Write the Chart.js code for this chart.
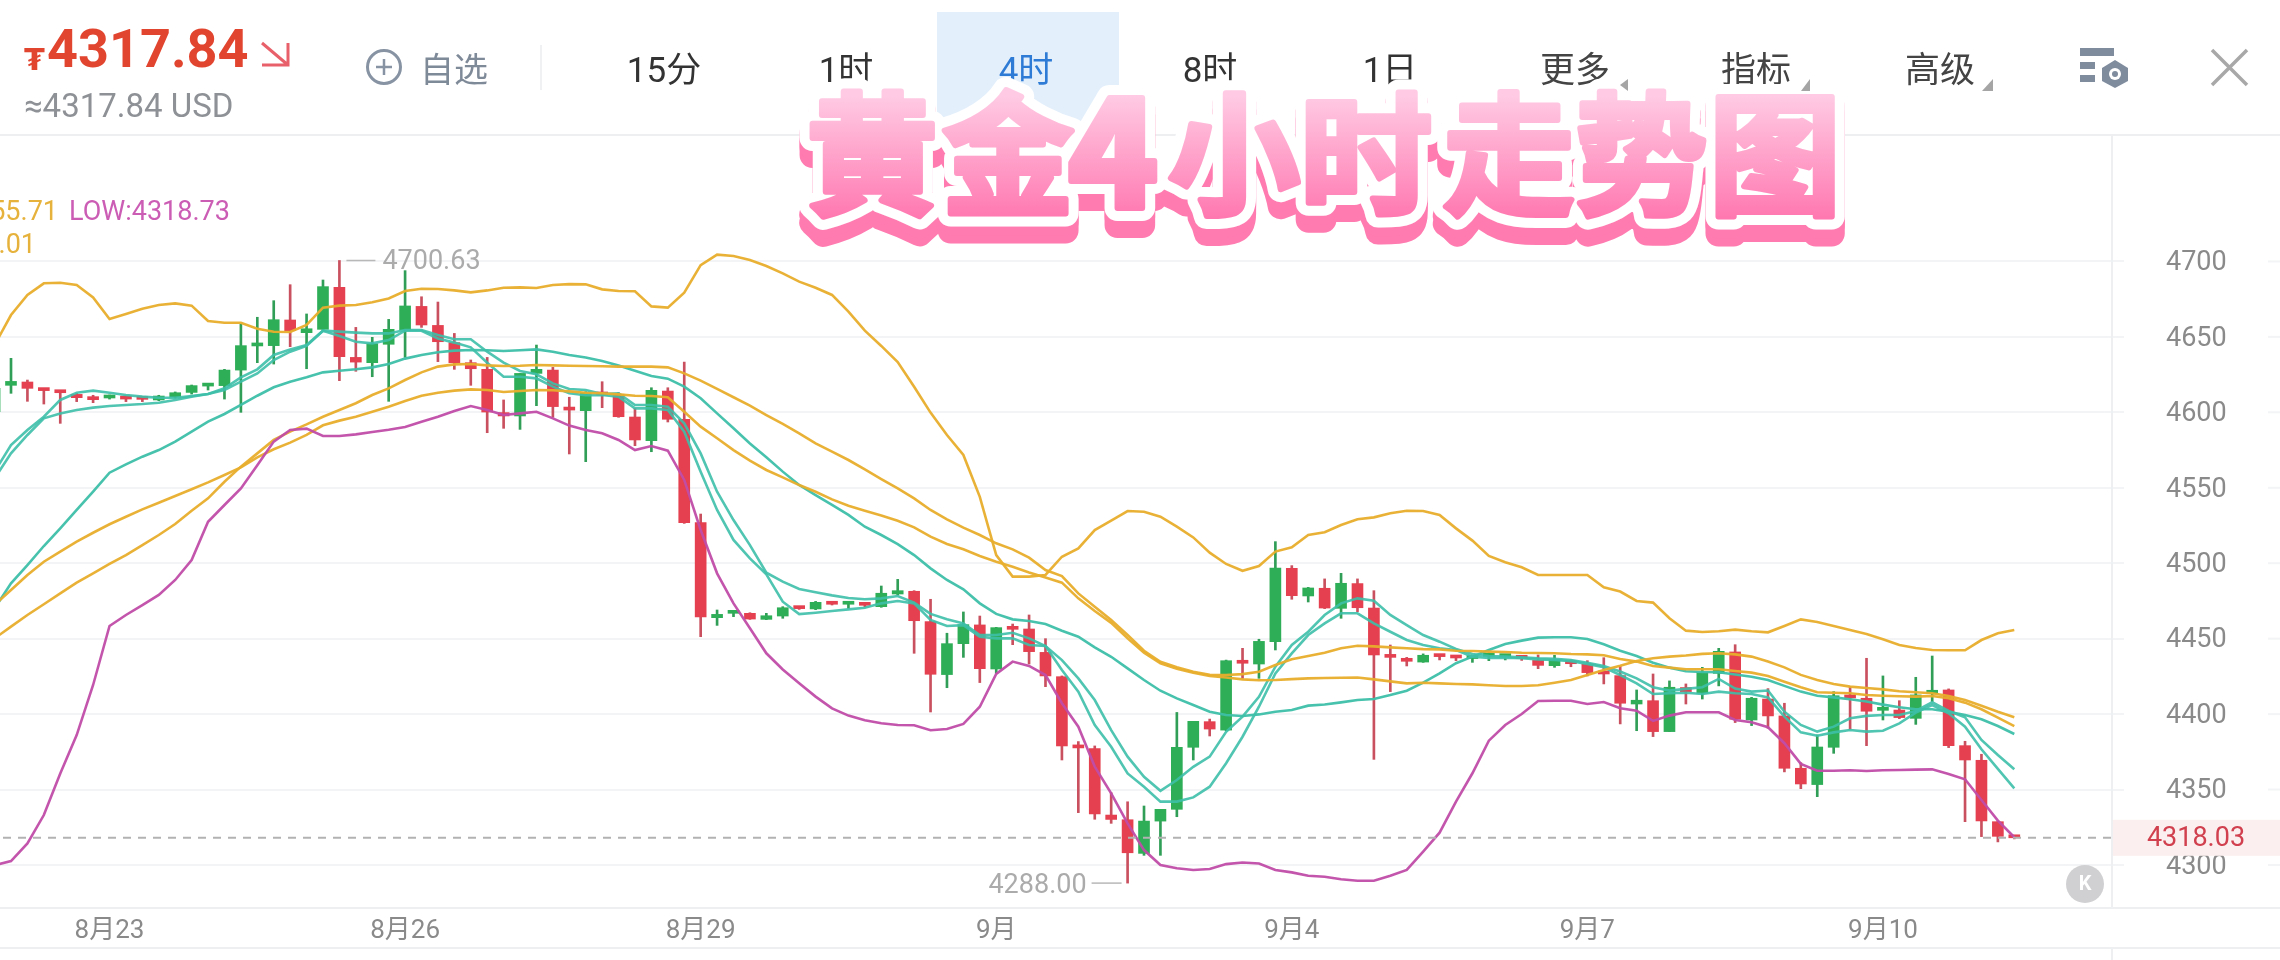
<!DOCTYPE html>
<html lang="zh">
<head>
<meta charset="utf-8">
<title>黄金4小时走势图</title>
<script src="https://cdn.jsdelivr.net/npm/chart.js@4"></script>
<style>
html,body{margin:0;padding:0;background:#fff;width:2280px;height:960px;overflow:hidden;font-family:Roboto,"Noto Sans CJK SC",sans-serif}
#stage{position:relative;width:2280px;height:960px;overflow:hidden}
canvas{position:absolute;left:0;top:0}
.abs{position:absolute;white-space:nowrap;line-height:1}
.tab{position:absolute;top:51px;width:160px;margin-left:-80px;text-align:center;font-size:35px;color:#333;line-height:40px}
svg{position:absolute;left:0;top:0;overflow:visible}
</style>
</head>
<body>
<div id="stage">
  <div class="abs" style="left:937px;top:12px;width:182px;height:111px;background:#E3EFFB"></div>
  <canvas id="c" width="2280" height="960"></canvas>

  <div class="abs" style="left:24px;top:42px;font:bold 30px 'DejaVu Sans';color:#E2452F">₮</div>
  <div class="abs" style="left:47px;top:20px;font:bold 54px Roboto;color:#E2452F;line-height:58px">4317.84</div>
  <div class="abs" style="left:24px;top:86px;font:33px Roboto,'DejaVu Sans';color:#8E9196">≈4317.84 USD</div>

  <div class="abs" style="left:420px;top:50px;font-size:34px;line-height:40px;color:#7F8A99">自选</div>
  <div class="tab" style="left:664px">15分</div>
  <div class="tab" style="left:846px">1时</div>
  <div class="tab" style="left:1026px;color:#2E7BD6">4时</div>
  <div class="tab" style="left:1210px">8时</div>
  <div class="tab" style="left:1390px">1日</div>
  <div class="tab" style="left:1575px;color:#444">更多</div>
  <div class="tab" style="left:1756px;color:#444">指标</div>
  <div class="tab" style="left:1940px;color:#444">高级</div>

  <div class="abs" style="right:2222px;top:198px;font-size:27px;color:#E6B23C">4455.71</div>
  <div class="abs" style="left:69px;top:198px;font-size:27px;color:#CC5DB5">LOW:4318.73</div>
  <div class="abs" style="right:2244px;top:231px;font-size:27px;color:#E6B23C">4392.01</div>

  <svg width="2280" height="960">
    <!-- title -->
    <defs>
      <linearGradient id="pk" gradientUnits="userSpaceOnUse" x1="0" y1="95" x2="0" y2="218">
        <stop offset="0" stop-color="#FFCBE4"/><stop offset="1" stop-color="#FF78B0"/>
      </linearGradient>
      <text id="ttl" y="204" font-family="Noto Sans CJK SC" font-weight="700" font-size="132" stroke-linejoin="round" stroke-linecap="round"><tspan x="806 942">黄金</tspan><tspan x="1068" y="208" font-size="148" font-weight="900">4</tspan><tspan x="1168 1300 1443 1575 1709" y="204">小时走势图</tspan></text>
    </defs>
    <use href="#ttl" y="17" fill="#FF7BB0" stroke="#FF7BB0" stroke-width="26"/>
    <use href="#ttl" y="9" fill="#FF7BB0" stroke="#FF7BB0" stroke-width="26"/>
    <use href="#ttl" fill="#fff" stroke="#fff" stroke-width="26"/>
    <use href="#ttl" fill="url(#pk)" stroke="url(#pk)" stroke-width="6"/>
    <!-- header icons -->
    <path d="M262 43 L288 65 M288 43 V65 H262" fill="none" stroke="#E8616A" stroke-width="3"/>
    <circle cx="384" cy="67" r="16.5" fill="none" stroke="#8793A3" stroke-width="3"/>
    <path d="M376 67H392M384 59V75" stroke="#8793A3" stroke-width="2.5"/>
    <rect x="540" y="45" width="2" height="45" fill="#F0F1F3"/>
    <path d="M1628 79V91L1620 85Z" fill="#A5A5A5"/>
    <path d="M1810 79V91H1801Z" fill="#A5A5A5"/>
    <path d="M1993 79V91H1982Z" fill="#A5A5A5"/>
    <rect x="2080" y="48" width="34" height="8" fill="#7F8C9E"/>
    <rect x="2080" y="62" width="15" height="7" fill="#7F8C9E"/>
    <rect x="2080" y="75" width="15" height="7" fill="#7F8C9E"/>
    <path d="M2115 60L2128 68V81L2115 88L2102 81V68Z" fill="#7F8C9E"/>
    <circle cx="2115" cy="74" r="6" fill="#fff"/>
    <circle cx="2115" cy="74" r="3" fill="#7F8C9E"/>
    <path d="M2212 50L2247 85M2247 50L2212 85" stroke="#A8A8A8" stroke-width="3.5" fill="none"/>
  </svg>
</div>
<script>
// Candle data, oldest first (first candle sits just off the left edge)
const opens = [4600.4,4617.9,4620.1,4615.5,4613.7,4611.9,4609.1,4609.5,4609.5,4609.1,4608.2,4610.0,4613.2,4617.4,4617.7,4628.0,4644.0,4644.2,4661.2,4652.8,4655.0,4682.8,4636.4,4632.9,4645.1,4654.6,4670.2,4657.6,4646.2,4632.9,4628.5,4599.8,4597.6,4625.8,4628.0,4603.1,4601.1,4612.6,4611.7,4596.9,4581.2,4614.1,4595.4,4526.9,4463.9,4466.8,4466.8,4462.8,4465.0,4470.3,4469.7,4473.9,4472.8,4473.0,4471.2,4479.6,4481.4,4461.3,4426.2,4446.7,4459.1,4429.9,4457.5,4456.4,4440.9,4424.8,4378.9,4377.1,4333.1,4330.0,4307.7,4329.1,4336.9,4378.0,4395.0,4389.4,4435.0,4433.2,4448.0,4496.6,4478.3,4483.4,4470.1,4486.5,4470.3,4439.0,4436.8,4434.5,4438.5,4437.6,4436.8,4438.3,4438.1,4437.2,4435.6,4432.1,4435.0,4433.2,4427.3,4425.5,4406.7,4408.9,4388.4,4417.6,4413.8,4427.0,4441.2,4396.1,4410.0,4398.8,4364.1,4353.3,4378.0,4411.8,4410.5,4402.5,4402.7,4397.2,4413.8,4416.0,4379.1,4369.4,4328.7,4318.6];
const closes = [4615.9,4620.5,4615.9,4614.4,4613.0,4609.7,4608.4,4610.2,4608.8,4608.6,4610.8,4613.0,4617.7,4618.1,4628.0,4644.2,4644.6,4661.4,4654.1,4655.4,4683.3,4636.9,4633.3,4645.5,4655.0,4670.5,4657.9,4646.8,4632.9,4628.9,4600.2,4597.6,4625.8,4628.5,4603.8,4601.5,4613.0,4611.5,4597.1,4581.7,4614.6,4595.4,4526.9,4464.4,4466.1,4467.2,4463.0,4465.2,4470.5,4469.9,4474.1,4472.8,4473.4,4472.1,4480.1,4481.8,4461.9,4426.4,4446.7,4459.3,4430.1,4457.3,4456.2,4441.4,4425.3,4378.9,4377.6,4333.8,4330.2,4308.1,4329.1,4336.9,4378.0,4395.2,4390.1,4435.4,4433.7,4448.2,4496.8,4478.5,4483.6,4470.3,4486.7,4470.5,4439.2,4437.6,4435.0,4439.0,4438.1,4437.2,4437.4,4439.0,4438.5,4437.0,4432.3,4436.1,4433.4,4427.5,4426.6,4407.2,4409.2,4388.4,4417.8,4414.9,4427.5,4441.6,4396.6,4410.5,4398.8,4364.1,4353.7,4378.2,4412.2,4410.7,4401.9,4403.6,4397.7,4412.7,4415.8,4379.1,4369.6,4329.2,4319.0,4318.03];
const highs = [4615.9,4635.8,4621.4,4615.9,4613.9,4612.6,4611.3,4611.5,4610.8,4610.0,4611.3,4613.5,4618.1,4619.2,4628.5,4658.5,4663.0,4674.0,4684.6,4665.2,4687.7,4700.63,4656.3,4649.7,4661.6,4693.9,4676.6,4673.1,4652.3,4634.7,4636.4,4608.2,4625.8,4644.6,4629.8,4610.0,4613.7,4620.3,4613.0,4602.6,4616.3,4616.3,4633.3,4532.6,4469.0,4468.3,4467.2,4466.8,4471.2,4471.2,4474.7,4474.7,4473.9,4474.1,4484.9,4489.3,4481.8,4476.1,4453.6,4467.7,4465.0,4457.5,4459.7,4465.7,4450.0,4425.3,4381.8,4378.9,4347.9,4341.9,4339.1,4336.9,4401.1,4395.2,4396.7,4435.8,4443.6,4449.6,4514.3,4498.4,4484.0,4489.6,4493.3,4489.6,4481.8,4445.8,4437.6,4439.9,4438.7,4438.5,4438.1,4440.7,4439.4,4438.1,4439.2,4439.0,4435.9,4435.4,4437.4,4431.9,4416.0,4426.6,4422.0,4420.0,4431.0,4443.6,4446.0,4411.1,4416.9,4407.2,4367.8,4386.2,4414.9,4418.2,4437.0,4425.3,4408.9,4424.4,4438.5,4416.7,4382.0,4373.4,4329.2,4318.8];
const lows = [4600.4,4612.6,4607.3,4605.5,4592.7,4607.1,4606.4,4608.8,4607.1,4607.1,4607.7,4609.5,4612.1,4614.8,4608.8,4600.0,4632.9,4632.0,4643.5,4628.9,4654.6,4621.0,4627.2,4623.6,4607.3,4636.4,4656.3,4633.6,4628.5,4617.9,4586.5,4589.4,4588.7,4604.4,4596.7,4572.4,4567.3,4603.1,4596.7,4577.9,4573.9,4593.6,4526.4,4451.3,4458.8,4464.6,4462.8,4462.6,4463.5,4469.4,4469.2,4472.3,4470.1,4471.2,4470.8,4479.0,4440.3,4401.4,4417.5,4437.6,4420.9,4427.0,4446.0,4433.2,4418.2,4369.6,4334.7,4330.3,4327.6,4288.0,4306.4,4306.4,4332.0,4369.6,4385.5,4389.0,4423.7,4423.7,4442.5,4476.1,4474.3,4469.9,4463.5,4467.9,4370.0,4414.9,4431.9,4434.3,4435.9,4435.4,4434.3,4435.4,4435.9,4435.6,4430.1,4431.0,4431.4,4425.3,4420.0,4393.5,4389.0,4385.1,4388.4,4406.7,4410.0,4418.7,4394.4,4392.4,4390.6,4361.7,4350.6,4345.3,4374.0,4389.9,4379.1,4396.1,4397.0,4393.2,4408.3,4377.8,4328.7,4318.8,4315.3,4317.3];

// Teal moving averages
const tealUpper = [4560.7,4578.3,4588.3,4597.1,4608.2,4613,4614.4,4613,4611.5,4610.4,4609.7,4609.7,4610.8,4612.1,4615.9,4623.2,4628.5,4638,4641.7,4644.6,4654.1,4653.5,4652.8,4652.3,4652.3,4654.6,4654.6,4651.2,4648.4,4648.4,4640.2,4632.9,4627.4,4625.2,4619.2,4615.5,4614.8,4612.1,4612.6,4604.9,4604.9,4603.7,4592.7,4572.8,4547.4,4528.6,4512,4493.7,4487.8,4482.9,4480.7,4478.7,4477,4476.1,4476.7,4478.3,4473.9,4466.4,4462.8,4460.1,4452.4,4452.4,4453.9,4450.2,4445.1,4435.8,4423.7,4409.3,4389.4,4371.8,4358.5,4349.2,4356.3,4365.1,4371.8,4388.3,4398.3,4411.5,4431.4,4445.8,4454.6,4465.7,4473.4,4476.7,4475.1,4465.7,4459,4452.4,4448,4443.2,4439.8,4438.5,4438.1,4437.6,4437,4436.7,4435.9,4434.1,4431.9,4428.2,4423.7,4417.8,4415.6,4416.7,4417.8,4423.3,4416.9,4414.9,4415.6,4401.6,4392.8,4388.4,4391.7,4397.2,4398.8,4399.4,4399.4,4402.1,4407.8,4402.1,4397.9,4382.9,4372.9,4363.4];
const tealLower = [4556.3,4572.8,4585,4596,4599.3,4601.5,4603.1,4604.2,4604.9,4605.5,4606.4,4608.2,4610.4,4612.1,4614.8,4620.3,4625.8,4634.7,4640.2,4644,4654.1,4650.6,4646.8,4645.7,4647.9,4654.1,4654.1,4649,4646.2,4643.1,4632.9,4623.6,4623.6,4622.5,4617,4612.6,4611.3,4611.5,4610.4,4602.6,4602.6,4601.5,4587.2,4560.7,4535.3,4515.4,4503.2,4492.6,4474.5,4466.3,4467.2,4468.3,4469.4,4470.5,4473.4,4475,4473.4,4462.4,4458.4,4459,4451.3,4450.2,4450.2,4445.8,4445.1,4429.2,4414.8,4392.8,4378.4,4360.7,4351.9,4342,4342,4344.8,4351.9,4367.4,4385,4404.9,4427,4440.2,4452.4,4460.1,4466.8,4466.8,4460.1,4454.6,4449.1,4445.8,4443.6,4442.5,4438.1,4437.2,4437.4,4437,4436.3,4435.9,4435,4433.2,4431,4425.9,4420.4,4413.3,4413.8,4414.2,4413.3,4414.9,4413.8,4413.3,4411.1,4398.3,4387.9,4385.7,4387.9,4389.5,4388.4,4389,4393.9,4401,4406,4400.5,4391.7,4376.7,4363.7,4350.8];
const tealSlow = [4470.1,4486.7,4498.8,4511.4,4523.1,4535.3,4547.4,4560,4565.5,4570.6,4575,4580.6,4587.2,4593.8,4598.9,4604.9,4611,4616.6,4620.3,4623.2,4626.5,4627.6,4628.5,4629.8,4632,4635.6,4638,4639.8,4640.9,4641.3,4641.1,4640.6,4641.1,4641.7,4640.2,4638,4636.4,4634,4631.1,4627.6,4624.1,4622.3,4617,4609.3,4599.3,4589.4,4579.4,4570.2,4560.7,4551.8,4545.2,4538.6,4532,4524.2,4518.7,4512.7,4505.4,4496.6,4488.9,4482.7,4473.4,4466.4,4462.8,4461.7,4459.7,4455.3,4451.3,4444.2,4438,4430.3,4422.6,4415.5,4410.4,4406,4401.6,4399.4,4398.7,4399.8,4401.6,4402.7,4405.6,4406.4,4407.8,4409.3,4410,4412.6,4415.5,4420.8,4427,4433.7,4438.1,4442.5,4446.5,4448.7,4450.7,4450.9,4450.9,4449.8,4446.3,4442,4438.5,4434.1,4430.8,4428.4,4427.9,4427.7,4426.2,4424.8,4422.6,4418.7,4414.9,4412.2,4411.1,4409.8,4408.3,4406.3,4404.5,4403.2,4403.2,4401.6,4399.4,4396.6,4392.1,4386.8];

// Yellow lines
const bollUpper = [4644.6,4664.5,4677.8,4685.5,4685.9,4684.4,4676.2,4661.8,4665.2,4668.7,4671.1,4672.2,4670.7,4660.5,4659.4,4659.4,4655.4,4653.4,4653.2,4657.9,4669.4,4670.7,4671.1,4672.9,4675.5,4680.4,4681.9,4681.7,4680.8,4679.5,4680.8,4682.6,4682.8,4682.4,4684.4,4685,4684.8,4681.5,4680.4,4680.2,4670.2,4669.4,4679.3,4697.6,4704.5,4703.6,4701,4697,4692.1,4686.6,4682.6,4677.8,4666.7,4654.1,4644,4633.3,4617,4599.8,4585,4571.7,4544,4505.4,4491.1,4491.1,4492.2,4504.3,4509.8,4522,4528.2,4534.6,4534.1,4530.8,4524.2,4517.1,4507,4499.5,4495,4498.1,4507.7,4510.5,4518.7,4520.5,4525.3,4529.1,4530.4,4533.1,4534.8,4534.6,4532,4523.1,4515,4504.8,4500.6,4497.3,4492.2,4492.2,4492.2,4492.2,4484,4481.2,4475,4473.9,4463.5,4455.3,4454.4,4454.9,4456,4454.9,4454.2,4458.4,4462.8,4461.1,4458.4,4455.8,4453.1,4449.6,4445.8,4443.8,4442.5,4442.3,4442.3,4449.1,4453.6,4455.71];
const yellowSlow = [4472.3,4482.3,4492.2,4501,4507.7,4514.3,4520.2,4525.8,4530.8,4535.7,4540.1,4544.6,4549,4553.6,4558.5,4563.5,4570.2,4575.5,4579.9,4585,4591.4,4594.5,4597.1,4600.4,4603.7,4607.5,4611,4613,4614.4,4615.2,4614.8,4613.5,4614.1,4614.8,4614.6,4613.9,4613,4612.6,4611.9,4611,4610.8,4610,4600.4,4590.5,4582.8,4575,4568,4561.8,4556.9,4551.8,4547.4,4542.3,4538.1,4534.8,4531.7,4528.2,4523.8,4517.6,4512.7,4509.2,4504.8,4501,4497.7,4493.9,4490.6,4487.1,4476.7,4468.3,4460.5,4450.2,4440.7,4433.6,4430.1,4427.4,4425.2,4424.3,4423,4422.4,4422.6,4423.2,4423.7,4423.9,4424.1,4424.3,4423,4421.7,4420.4,4420.8,4420.4,4420,4419.7,4419.1,4418.6,4418.6,4419.1,4420.8,4422.6,4425.9,4429.2,4432,4435.2,4437,4438.1,4438.8,4439.9,4440.3,4439.6,4438.1,4434.8,4431,4426,4422.6,4420,4418.2,4417.3,4416.4,4415.1,4414.5,4413.8,4412,4409.4,4405.6,4401.6,4397.9];
const yellowFast = [4450.2,4458,4465.7,4472.8,4480,4487.1,4493.3,4499.5,4505.4,4512,4518.7,4526,4534.8,4543,4554,4564,4572.8,4581.7,4587.2,4592,4597.1,4601.5,4606,4611.5,4615.9,4621.4,4626.5,4630.3,4631.8,4632,4631.1,4630.7,4630.9,4631.4,4631.1,4630.9,4630.7,4630.5,4630.3,4630.3,4630.3,4629.8,4625.8,4621,4615.5,4610,4604.4,4598.2,4592.3,4586.1,4579.4,4573.9,4568.4,4562.2,4555.8,4549.6,4543,4535.3,4529.1,4523.6,4518.7,4513.2,4509.2,4503.7,4495.5,4491.5,4480,4471.2,4462.3,4452.4,4442,4434.7,4431,4428.1,4426.1,4425.9,4426.5,4428.1,4432.5,4436.3,4438.5,4440.7,4443.6,4445.3,4444.9,4444.2,4443.6,4443.1,4442.9,4442,4441.8,4441.4,4441.2,4440.7,4440.5,4440.3,4439.8,4439.6,4439,4436.5,4434.8,4431.9,4430.8,4429.7,4429.7,4429.7,4428.6,4427.5,4425.3,4421.5,4417.8,4414.5,4414.2,4413.8,4412.7,4412.2,4411.8,4411.6,4412,4410.5,4407.6,4403.2,4397.7,4392.01];

// Bollinger LOW band
const bollLower = [4299.8,4302.6,4314.3,4333.1,4360.7,4386.1,4419.3,4458.4,4465.7,4472.3,4479,4488.9,4502.1,4527.5,4538.6,4549.6,4565,4580.6,4588.3,4589.2,4584.3,4584.3,4585.4,4587,4588.5,4590.3,4593.8,4597.1,4600.9,4604.2,4601.5,4598.2,4599.3,4600.4,4596,4591.2,4588.3,4586.1,4581.7,4575,4577.7,4574.6,4555.2,4522,4493.3,4473.4,4456.9,4440.3,4429.6,4420.4,4411.6,4403.8,4399,4395.9,4393.9,4392.8,4392.6,4389.3,4390.1,4393.5,4404.9,4426.6,4434.8,4431.9,4425.9,4407.2,4391.7,4365.2,4347.5,4327.6,4309.9,4300,4297.8,4296.7,4297.3,4300.6,4301.7,4301,4296.7,4295.1,4292.9,4292.2,4290.5,4289.6,4289.6,4292.9,4296.7,4308.8,4321.4,4342,4360.8,4382.4,4392.8,4400.1,4408.7,4408.9,4408.9,4406.7,4408,4403.9,4402.3,4395.5,4399,4401.2,4401.2,4401.2,4396.1,4394.6,4391.3,4380.7,4367,4362.5,4362.5,4362.8,4362.3,4362.8,4363,4363.2,4363.4,4360.3,4356.8,4343.1,4329.4,4318.4];

// Axes
const priceTicks = [4300,4350,4400,4450,4500,4550,4600,4650,4700];
const dateLabels = ['8月23','8月26','8月29','9月','9月4','9月7','9月10'];
const dateIndexes = [7,25,43,61,79,97,115];
const lastPrice = 4318.03;
const highestIndex = 21, lowestIndex = 69;

const RED='#E4404F', GREEN='#2FAE58', WICK_RED='#C9505E', WICK_GREEN='#309E56';
const FONT='Roboto,"Noto Sans CJK SC",sans-serif';
const isUp = i => closes[i] >= opens[i];
const idx = opens.map((_,i)=>i);
const series = (arr,color,order) => ({type:'line',data:idx.map(i=>({x:i,y:arr[i]})),borderColor:color,borderWidth:2.6,pointRadius:0,tension:0,order,fill:false});

const extras = {
  id:'extras',
  afterDraw(chart){
    const {ctx,scales:{x,y},chartArea:a}=chart, W=chart.width, H=chart.height, LINE='#EEEFF1';
    ctx.save();
    ctx.strokeStyle=LINE; ctx.lineWidth=2;
    const hl=(yy,x0,x1)=>{ctx.beginPath();ctx.moveTo(x0,yy);ctx.lineTo(x1,yy);ctx.stroke();};
    hl(a.top,0,W); hl(a.bottom,0,W); hl(a.bottom+40,0,W);
    ctx.beginPath();ctx.moveTo(a.right,a.bottom+40);ctx.lineTo(a.right,H);ctx.stroke();
    ctx.strokeStyle='#F2F4F5';
    priceTicks.forEach(t=>hl(y.getPixelForValue(t),a.right+156,W));
    // last price dashed line and tag
    const py=y.getPixelForValue(lastPrice);
    ctx.strokeStyle='#B2B2B2'; ctx.setLineDash([8,7]);
    hl(py,3,a.right); ctx.setLineDash([]);
    ctx.fillStyle='#FCEFEF'; ctx.fillRect(a.right+1,py-18,W-a.right,36);
    ctx.fillStyle='#D0404E'; ctx.font='27px '+FONT; ctx.textAlign='center'; ctx.textBaseline='middle';
    ctx.fillText(lastPrice.toFixed(2),a.right+84,py+1);
    // extreme labels
    ctx.fillStyle='#ABABAB'; ctx.strokeStyle='#B8B8B8'; ctx.lineWidth=1.5; ctx.textAlign='left';
    const hx=x.getPixelForValue(highestIndex), hy=y.getPixelForValue(highs[highestIndex]);
    hl(hy,hx+7,hx+36); ctx.fillText(highs[highestIndex].toFixed(2),hx+43,hy+2);
    const lx=x.getPixelForValue(lowestIndex), ly=y.getPixelForValue(lows[lowestIndex]);
    ctx.textAlign='right';
    hl(ly,lx-36,lx-6); ctx.fillText(lows[lowestIndex].toFixed(2),lx-41,ly+3);
    // K button
    ctx.fillStyle='#D0D0D3'; ctx.beginPath(); ctx.arc(a.right-27,a.bottom-24,19,0,Math.PI*2); ctx.fill();
    ctx.fillStyle='#fff'; ctx.font='bold 20px Roboto'; ctx.textAlign='center'; ctx.fillText('K',a.right-27,a.bottom-23);
    ctx.restore();
  }
};

new Chart(document.getElementById('c'),{
  type:'bar',
  data:{datasets:[
    {label:'wick',data:idx.map(i=>({x:i,y:[lows[i],highs[i]]})),barThickness:2,grouped:false,order:20,
     backgroundColor:idx.map(i=>isUp(i)?WICK_GREEN:WICK_RED)},
    {label:'body',data:idx.map(i=>({x:i,y:[opens[i],closes[i]]})),barThickness:11,grouped:false,order:19,minBarLength:3,
     backgroundColor:idx.map(i=>isUp(i)?GREEN:RED)},
    series(tealUpper,'rgba(61,191,168,.9)',6),
    series(tealLower,'rgba(61,191,168,.9)',5),
    series(tealSlow,'rgba(61,191,168,.95)',4),
    series(bollUpper,'rgba(232,174,44,.95)',3),
    series(yellowSlow,'rgba(232,174,44,.95)',2),
    series(yellowFast,'rgba(232,174,44,.95)',1),
    series(bollLower,'rgba(192,76,168,.95)',0)
  ]},
  options:{
    responsive:false,animation:false,events:[],
    devicePixelRatio:1,
    layout:{padding:{top:135,bottom:12,left:0,right:0}},
    plugins:{legend:{display:false},tooltip:{enabled:false}},
    scales:{
      x:{type:'linear',min:0.33,max:128.95,offset:false,
        grid:{display:false},border:{display:false},
        afterBuildTicks:s=>{s.ticks=dateIndexes.map(v=>({value:v}));},
        afterFit:s=>{s.height=40;s.paddingBottom=0;s.paddingTop=0;},
        ticks:{autoSkip:false,maxRotation:0,padding:0,color:'#8A8A8A',font:{size:26,family:FONT},
          callback:v=>dateLabels[dateIndexes.indexOf(v)]}},
      y:{type:'linear',position:'right',min:4271.5,max:4783.8,
        grid:{color:'#F2F4F5',lineWidth:2,tickLength:12},
        border:{display:true,color:'#EEEFF1',width:2},
        afterBuildTicks:s=>{s.ticks=priceTicks.map(v=>({value:v}));},
        afterFit:s=>{s.width=168;s.paddingBottom=0;s.paddingTop=0;},
        ticks:{padding:42,labelOffset:2,color:'#8A8A8A',font:{size:27,family:FONT},callback:v=>String(v)}}
    }
  },
  plugins:[extras]
});
</script>
</body>
</html>
